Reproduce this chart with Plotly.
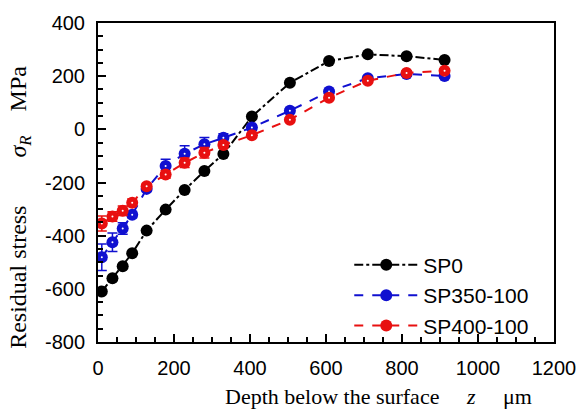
import plotly.graph_objects as go

# depth below surface, um
depth = [10, 38, 65, 90, 128, 178, 228, 280, 330, 405, 505, 608, 710, 812, 912]

sp0 = [-610, -560, -515, -466, -381, -302, -228, -157, -93, 48, 175, 257, 282, 275, 261]
sp350 = [-481, -425, -373, -321, -224, -138, -92, -56, -32, 7, 70, 142, 192, 208, 201]
sp350_err = [50, 35, 22, 12, 10, 25, 30, 25, 15, 10, 8, 8, 8, 8, 8]
sp400 = [-354, -328, -306, -276, -214, -170, -126, -88, -59, -22, 36, 119, 183, 212, 220]
sp400_err = [28, 18, 18, 14, 10, 14, 18, 20, 12, 8, 8, 8, 8, 8, 8]

x_ticks = [0, 200, 400, 600, 800, 1000, 1200]
y_ticks = [-800, -600, -400, -200, 0, 200, 400]
y_labels = ['-800', '-600', '-400', '-200', '0', '200', '400']

SERIES = [
    ('SP0', sp0, None, 'black', 'dashdot'),
    ('SP350-100', sp350, sp350_err, '#1010d0', 'dash'),
    ('SP400-100', sp400, sp400_err, '#e81010', 'dash'),
]

fig = go.Figure()
for name, vals, err, color, dash in SERIES:
    fig.add_trace(go.Scatter(
        x=depth, y=vals, name=name, mode='lines+markers',
        line=dict(color=color, width=2, dash=dash),
        marker=dict(symbol='circle', size=12, color=color),
        error_y=dict(type='data', array=err, color=color, thickness=1.5, width=5,
                     visible=err is not None),
    ))
    if err is not None:
        # tiny white centre dot seen in the coloured markers
        fig.add_trace(go.Scatter(x=depth, y=vals, mode='markers', showlegend=False,
                                 hoverinfo='skip',
                                 marker=dict(size=2, color='white')))

sans = 'Liberation Sans, Arial, sans-serif'
axis_common = dict(
    showline=True, linecolor='black', linewidth=2, mirror=True,
    ticks='inside', ticklen=8, tickwidth=2, tickcolor='black',
    showgrid=False, zeroline=False, ticklabelstandoff=7,
    tickfont=dict(family=sans, size=20, color='black'),
)
minor = dict(dtick=50, ticks='inside', ticklen=5, tickwidth=2, tickcolor='black')

fig.update_xaxes(range=[0, 1200], tickvals=x_ticks, minor=minor, **axis_common)
fig.update_yaxes(range=[-800, 400], tickvals=y_ticks, ticktext=y_labels,
                 minor=minor, **axis_common)

serif = dict(family='Liberation Serif, Times New Roman, serif', size=22, color='black')
sp = '&nbsp;'
fig.add_annotation(
    text='Residual stress' + sp * 8 + '<i>σ<sub>R</sub></i>' + sp * 4 + 'MPa',
    xref='paper', yref='paper', x=-0.17, y=0.422, xanchor='center', yanchor='middle',
    textangle=-90, showarrow=False, font=dict(serif, size=24))
fig.add_annotation(
    text='Depth below the surface' + sp * 5 + '<i>z</i>' + sp * 5 + 'μm',
    xref='paper', yref='paper', x=0.615, y=-0.125, xanchor='center', yanchor='top',
    showarrow=False, font=serif)

fig.update_layout(
    width=588, height=412,
    paper_bgcolor='white', plot_bgcolor='white',
    margin=dict(l=98, r=25, t=20, b=70),
    showlegend=True,
    legend=dict(x=0.551, y=0.305, xanchor='left', yanchor='top',
                bgcolor='rgba(0,0,0,0)', itemwidth=64,
                font=dict(family=sans, size=21, color='black')),
)

# drop the default page margin so the figure sits at the window's corner
fig.write_html("out.html", config={'displayModeBar': False},
               post_script="document.body.style.margin='0';")
